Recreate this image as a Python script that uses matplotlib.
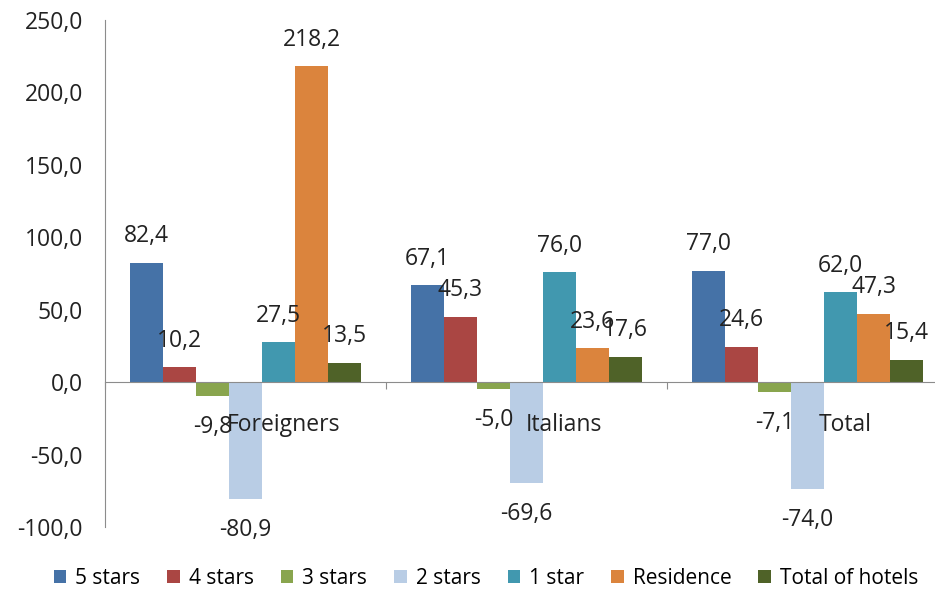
import numpy as np
import matplotlib.pyplot as plt
from matplotlib.ticker import FuncFormatter

plt.rcParams['font.family'] = ['Open Sans', 'DejaVu Sans']

categories = ['Foreigners', 'Italians', 'Total']
series = ['5 stars', '4 stars', '3 stars', '2 stars', '1 star', 'Residence', 'Total of hotels']
values = [
    [82.4, 67.1, 77.0],     # 5 stars
    [10.2, 45.3, 24.6],     # 4 stars
    [-9.8, -5.0, -7.1],     # 3 stars
    [-80.9, -69.6, -74.0],  # 2 stars
    [27.5, 76.0, 62.0],     # 1 star
    [218.2, 23.6, 47.3],    # Residence
    [13.5, 17.6, 15.4],     # Total of hotels
]
colors = ['#4572A7', '#AA4643', '#89A54E', '#B9CDE5', '#4198AF', '#DB843D', '#4F6228']

def comma(v):
    return f"{v:.1f}".replace('.', ',')

fig = plt.figure(figsize=(9.35, 5.92), dpi=100)
ax = fig.add_axes([105/935, 1-527/592, 843/935, 507/592])

x = np.arange(len(categories))
w = 1 / 8.5
for k, (name, vals, c) in enumerate(zip(series, values, colors)):
    pos = x + (k - 3) * w
    ax.bar(pos, vals, width=w, color=c, label=name, zorder=2)
    # data labels outside the bar end, like Excel
    for px, v in zip(pos, vals):
        ax.annotate(comma(v), (px, v), xytext=(0, 19 if v >= 0 else -22),
                    textcoords='offset points', ha='center', va='center',
                    fontsize=16.5, color='#222222', zorder=3)

ax.set_xlim(-0.5, 2.5)
ax.set_ylim(-100, 250)
ax.set_yticks(np.arange(-100, 251, 50))
ax.yaxis.set_major_formatter(FuncFormatter(lambda v, p: comma(v)))
ax.tick_params(axis='y', length=0, pad=16, labelsize=16.5, labelcolor='#222222')

ax.spines['top'].set_visible(False)
ax.spines['right'].set_visible(False)
ax.spines['left'].set_color('#8c8c8c')
ax.spines['bottom'].set_color('#8c8c8c')
ax.spines['bottom'].set_position(('data', 0))
ax.set_xticks([-0.5, 0.5, 1.5, 2.5])
ax.set_xticklabels([])
ax.tick_params(axis='x', direction='out', length=5, color='#8c8c8c')

# category names sit just under the zero line
for i, cat in enumerate(categories):
    ax.annotate(cat, (i + 0.135, 0), xytext=(0, -31), textcoords='offset points',
                ha='center', va='center', fontsize=16.5, color='#222222', zorder=3)

fig.legend(loc='center', bbox_to_anchor=(486/935, 1-578/592), ncol=7, frameon=False,
           fontsize=15, handlelength=0.6, handleheight=0.6, handletextpad=0.43,
           columnspacing=1.3)

fig.savefig('out.png', dpi=100)
